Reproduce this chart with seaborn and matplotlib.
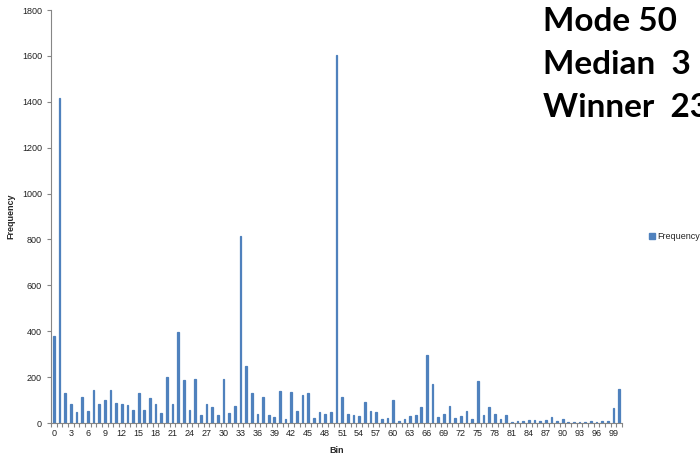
import pandas as pd
import seaborn as sns
import matplotlib.pyplot as plt
from matplotlib.patches import Patch
from matplotlib.ticker import FixedLocator

#%% data
bins = list(range(0, 101))
frequency = [378, 1415, 132, 84, 46, 112, 54, 144, 84, 100,
             145, 87, 84, 77, 58, 129, 57, 109, 84, 44,
             200, 82, 395, 186, 55, 192, 36, 84, 68, 35,
             193, 42, 73, 817, 247, 129, 39, 115, 33, 26,
             139, 17, 136, 51, 123, 131, 22, 46, 39, 49,
             1605, 113, 38, 35, 29, 92, 54, 48, 17, 20,
             99, 9, 19, 31, 33, 68, 298, 171, 26, 38,
             73, 20, 32, 52, 17, 183, 33, 71, 39, 17,
             36, 4, 7, 7, 13, 13, 9, 13, 26, 10,
             17, 4, 6, 4, 3, 9, 4, 10, 10, 64,
             148]
tick_labels = [str(b) for b in bins[::3]]
stats_text = ["Mode 50", "Median  3", "Winner  23"]

df = pd.DataFrame({'Bin': bins, 'Frequency': frequency})

#%% plot
sns.set_style("white")
plt.rcParams['font.family'] = ['Liberation Sans', 'DejaVu Sans']

fig = plt.figure(figsize=(7, 4.55), dpi=100)
ax = fig.add_axes([0.0729, 0.0703, 0.8157, 0.9077])

sns.barplot(data=df, x='Bin', y='Frequency', color='#4F81BD', width=0.3,
            saturation=1, edgecolor='#4F81BD', linewidth=0.9, ax=ax)

ax.set_xlim(-0.5, 100.5)
ax.set_ylim(0, 1800)
ax.set_yticks(range(0, 1801, 200))
ax.set_xticks(bins[::3])
ax.set_xticklabels(tick_labels)
ax.xaxis.set_minor_locator(FixedLocator([b - 0.5 for b in bins] + [100.5]))

ax.tick_params(axis='both', which='major', labelsize=6.5, colors='#868686',
               labelcolor='#222222', length=3, width=0.8)
ax.tick_params(axis='x', which='major', length=0, pad=4)
ax.tick_params(axis='x', which='minor', bottom=True, length=3, width=0.8,
               color='#868686')
ax.tick_params(axis='y', left=True)

sns.despine(ax=ax)
for s in ['left', 'bottom']:
    ax.spines[s].set_color('#868686')
    ax.spines[s].set_linewidth(0.8)

ax.set_xlabel('Bin', fontsize=6.5, fontweight='bold', labelpad=6)
ax.set_ylabel('Frequency', fontsize=6.5, fontweight='bold', labelpad=5)

# legend outside right
handles = [Patch(color='#4F81BD', label='Frequency')]
fig.legend(handles=handles, loc='center left', bbox_to_anchor=(0.915, 0.48),
           frameon=False, fontsize=6.5, handlelength=0.7, handleheight=0.7,
           handletextpad=0.3)

# the big annotations on the right (cut off at the edge, as in the original)
for i, t in enumerate(stats_text):
    fig.text(0.776, 0.952 - i * 0.094, t, fontsize=24, fontweight='bold',
             family=['Lato', 'DejaVu Sans'], color='black',
             va='center', ha='left')

fig.savefig('out.png', dpi=100)
